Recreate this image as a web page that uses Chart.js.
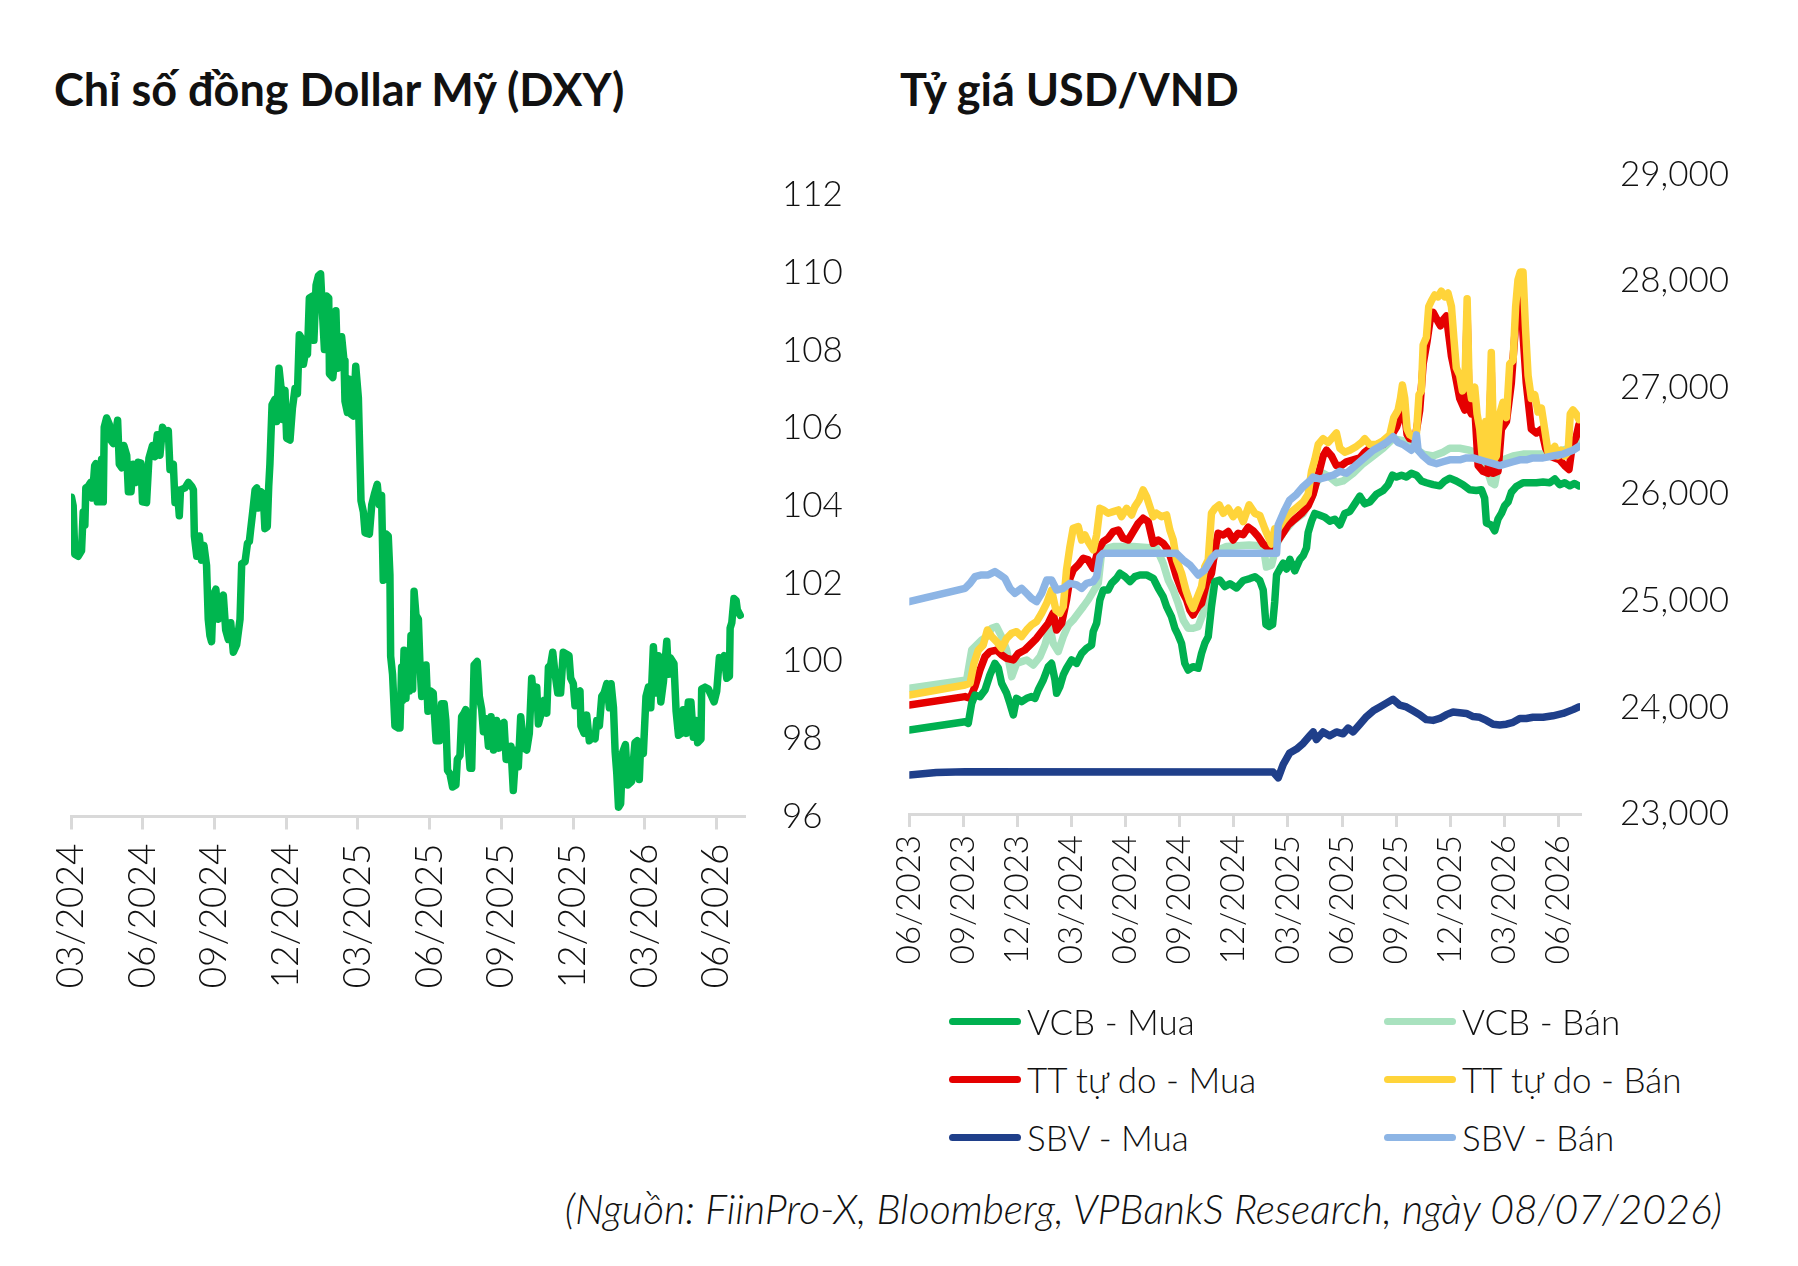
<!DOCTYPE html>
<html>
<head>
<meta charset="utf-8">
<script src="https://cdn.jsdelivr.net/npm/chart.js@4.4.1/dist/chart.umd.min.js"></script>
<style>
  html, body { margin: 0; padding: 0; background: #fff; }
  body { width: 1798px; height: 1266px; position: relative; overflow: hidden; font-family: 'Lato', 'Open Sans', sans-serif; color: #111; }
  .title { position: absolute; font-weight: 700; font-size: 45px; white-space: nowrap; line-height: 1; }
  .cv { position: absolute; }
  .legend-item { position: absolute; display: flex; align-items: center; font-size: 35px; font-weight: 300; white-space: nowrap; line-height: 1; }
  .legend-item span.sw { display: inline-block; width: 72px; height: 7px; border-radius: 4px; margin-right: 6px; }
  .source { position: absolute; right: 76px; top: 1188px; font-size: 41px; font-style: italic; font-weight: 300; white-space: nowrap; line-height: 1; }
</style>
</head>
<body>
<div class="title" id="t1" style="left:54px; top:67px;">Chỉ số đồng Dollar Mỹ (DXY)</div>
<div class="title" id="t2" style="left:900px; top:67px;">Tỷ giá USD/VND</div>
<canvas id="c1" class="cv" width="860" height="880" style="left:0px; top:150px;"></canvas>
<canvas id="c2" class="cv" width="938" height="880" style="left:860px; top:150px;"></canvas>
<div id="legend"></div>
<div class="source">(Nguồn: FiinPro-X, Bloomberg, VPBankS Research, ngày 08/07/2026)</div>
<script>
// ---------------- DATA ----------------
// Left chart: DXY, x = months since 03/2024
const dxyTickLabels = ['03/2024','06/2024','09/2024','12/2024','03/2025','06/2025','09/2025','12/2025','03/2026','06/2026'];
const dxyYLabels = {96:'96',98:'98',100:'100',102:'102',104:'104',106:'106',108:'108',110:'110',112:'112'};
const dxyMonth = [0.02,0.09,0.16,0.30,0.44,0.51,0.58,0.62,0.72,0.82,0.89,0.99,1.04,1.10,1.21,1.28,1.35,1.39,1.49,1.60,1.66,1.77,1.84,1.95,2.02,2.12,2.21,2.33,2.40,2.51,2.60,2.72,2.81,2.93,2.99,3.16,3.26,3.41,3.51,3.61,3.72,3.83,3.97,4.07,4.14,4.28,4.35,4.45,4.53,4.58,4.77,4.91,5.05,5.12,5.16,5.26,5.37,5.46,5.56,5.67,5.74,5.81,5.88,5.95,6.06,6.16,6.26,6.37,6.47,6.58,6.68,6.79,6.93,7.07,7.14,7.28,7.38,7.46,7.51,7.60,7.70,7.77,7.83,7.95,8.04,8.11,8.21,8.27,8.32,8.41,8.53,8.60,8.70,8.78,8.85,8.95,9.02,9.16,9.26,9.37,9.47,9.55,9.65,9.72,9.80,9.89,9.97,10.11,10.16,10.25,10.35,10.44,10.53,10.60,10.69,10.78,10.81,10.95,11.02,11.08,11.15,11.25,11.32,11.42,11.46,11.56,11.64,11.70,11.81,11.91,12.02,12.13,12.23,12.30,12.48,12.58,12.69,12.81,12.89,12.99,13.06,13.18,13.27,13.34,13.37,13.45,13.55,13.69,13.76,13.83,13.87,13.93,14.01,14.07,14.15,14.22,14.29,14.35,14.43,14.53,14.60,14.67,14.76,14.85,14.93,15.04,15.15,15.27,15.41,15.50,15.61,15.68,15.75,15.85,15.96,16.10,16.16,16.27,16.34,16.44,16.51,16.59,16.69,16.76,16.86,16.99,17.08,17.18,17.25,17.36,17.46,17.57,17.67,17.80,17.90,18.01,18.11,18.20,18.29,18.40,18.50,18.61,18.71,18.81,18.95,19.06,19.17,19.27,19.37,19.48,19.55,19.69,19.79,19.90,19.97,20.06,20.15,20.25,20.36,20.48,20.59,20.73,20.83,20.90,21.01,21.08,21.18,21.29,21.33,21.46,21.57,21.68,21.82,21.92,21.99,22.10,22.20,22.30,22.41,22.52,22.59,22.69,22.76,22.83,22.90,22.99,23.08,23.19,23.29,23.45,23.59,23.69,23.77,23.83,23.94,24.05,24.15,24.25,24.36,24.47,24.57,24.67,24.78,24.92,24.99,25.06,25.22,25.31,25.41,25.52,25.61,25.73,25.82,25.93,26.03,26.14,26.21,26.35,26.38,26.52,26.66,26.80,26.90,27.01,27.12,27.22,27.32,27.43,27.54,27.57,27.64,27.73,27.82,27.87,27.99];
const dxyValue = [104.22,104.0,102.75,102.7,102.84,103.84,103.5,104.46,104.5,104.6,104.2,105.03,105.08,104.1,104.1,105.2,104.1,106.02,106.26,106.1,105.69,105.6,105.8,106.2,105.07,104.98,105.55,105.3,104.36,104.36,105.07,104.6,105.12,105.1,104.1,104.08,105.22,105.55,105.26,105.83,105.3,106.02,105.83,105.93,104.93,105.07,104.08,104.41,103.74,104.41,104.46,104.6,104.5,104.41,103.22,102.7,103.22,102.6,102.98,102.46,101.08,100.66,100.5,101.7,101.85,101.08,101.46,101.7,100.8,100.56,100.99,100.23,100.42,101.08,102.51,102.56,103.03,103.08,103.36,103.84,104.41,104.46,103.94,104.36,104.3,103.41,103.46,104.5,105.07,106.6,106.74,106.17,107.54,107.07,106.22,106.97,105.74,105.69,106.5,107.02,106.88,108.4,108.3,107.64,107.92,107.9,109.35,109.4,108.26,109.68,109.92,109.97,108.83,108.02,109.4,109.35,107.4,107.3,107.74,109.02,107.54,108.02,108.35,107.73,106.69,106.4,107.26,106.36,106.31,107.59,106.78,104.13,103.84,103.3,103.27,104.03,104.3,104.55,104.03,104.27,102.08,103.27,103.22,102.22,100.13,99.66,98.33,98.28,98.28,99.85,98.99,100.28,99.04,100.23,99.23,100.66,99.28,101.8,101.18,101.08,99.85,99.09,99.18,99.9,98.71,99.23,99.18,97.95,97.95,98.9,98.9,98.47,97.19,97.1,96.76,96.81,97.47,97.57,98.57,98.66,98.75,98.04,97.24,97.24,99.9,99.99,99.09,98.75,98.18,98.52,97.81,98.57,97.71,98.47,97.76,98.38,98.42,97.47,97.47,97.81,96.67,97.71,97.28,98.57,97.76,97.71,98.14,99.56,98.9,99.33,98.38,98.71,98.99,98.66,99.85,99.9,100.23,99.66,99.18,99.18,100.23,100.18,100.14,99.56,99.42,98.85,99.18,99.23,98.33,98.14,98.61,97.95,98.04,98.0,98.47,98.33,99.09,99.18,99.42,98.8,99.42,98.8,97.66,97.1,96.24,96.33,97.66,97.85,96.81,96.9,97.9,97.95,96.95,97.9,97.62,99.09,99.33,98.8,100.37,99.18,100.14,98.95,99.47,100.51,99.66,100.09,99.94,98.71,98.09,98.14,98.75,98.14,98.95,98.95,98.04,98.47,97.9,97.99,99.28,99.33,99.28,99.09,98.95,99.23,100.09,100.04,100.14,99.56,99.61,100.85,100.99,101.61,101.56,101.32,101.18];

// Right chart: USD/VND, x = months since 06/2023
const vndTickLabels = ['06/2023','09/2023','12/2023','03/2024','06/2024','09/2024','12/2024','03/2025','06/2025','09/2025','12/2025','03/2026','06/2026'];
const vndYLabels = {23000:'23,000',24000:'24,000',25000:'25,000',26000:'26,000',27000:'27,000',28000:'28,000',29000:'29,000'};

const vcbBuyT = [0,3.09,3.27,3.46,3.64,3.92,4.2,4.47,4.75,4.94,5.12,5.4,5.58,5.77,5.95,6.23,6.51,6.78,6.97,7.15,7.43,7.71,7.89,8.08,8.17,8.35,8.54,8.72,9.0,9.28,9.56,9.83,10.11,10.2,10.39,10.57,10.76,11.03,11.22,11.5,11.68,11.96,12.24,12.51,12.79,13.16,13.53,13.81,14.08,14.27,14.54,14.73,14.91,15.1,15.28,15.47,15.74,16.02,16.21,16.39,16.58,16.76,16.95,17.22,17.5,17.78,18.15,18.52,18.89,19.17,19.44,19.63,19.78,19.96,20.15,20.27,20.37,20.55,20.74,20.92,21.11,21.38,21.66,21.85,22.03,22.12,22.31,22.49,22.77,23.05,23.32,23.6,23.88,24.15,24.43,24.71,24.99,25.26,25.54,25.91,26.28,26.56,26.8,27.02,27.3,27.57,27.85,28.13,28.4,28.68,29.05,29.42,29.7,29.97,30.34,30.71,31.08,31.45,31.73,31.91,32.01,32.28,32.47,32.65,32.84,33.02,33.21,33.39,33.67,34.04,34.41,34.78,35.15,35.52,35.8,36.07,36.35,36.63,36.9,37.14];
const vcbBuyV = [23788,23866,23850,24038,24116,24101,24163,24304,24413,24367,24226,24132,24038,23929,24085,24054,24085,24101,24085,24163,24257,24382,24413,24257,24132,24195,24304,24367,24445,24413,24507,24554,24585,24710,24789,25008,25101,25101,25164,25211,25258,25226,25180,25226,25242,25242,25211,25117,25039,24945,24851,24742,24679,24601,24413,24351,24382,24367,24507,24601,24664,24945,25180,25195,25133,25160,25120,25190,25208,25226,25190,25100,24777,24759,24777,24992,25244,25298,25352,25298,25388,25280,25388,25424,25495,25639,25747,25819,25801,25783,25747,25765,25711,25819,25837,25909,25981,25909,25927,25999,26035,26089,26178,26160,26178,26160,26196,26178,26124,26107,26089,26078,26124,26150,26124,26089,26042,26035,26042,25963,25729,25711,25657,25765,25819,25891,25927,26017,26071,26107,26107,26107,26114,26107,26142,26089,26107,26078,26100,26078];

const vcbSellT = [0,3.18,3.46,3.74,4.01,4.29,4.57,4.84,5.12,5.4,5.68,5.95,6.23,6.51,6.88,7.25,7.52,7.8,7.98,8.26,8.54,8.82,9.09,9.37,9.65,9.92,10.2,10.48,10.66,10.94,11.31,12.42,13.71,14.08,14.36,14.64,14.91,15.19,15.47,15.74,16.02,16.3,16.58,16.85,17.13,17.59,18.85,19.63,19.81,20.09,20.37,20.74,21.29,21.85,22.31,22.58,22.95,23.32,23.69,24.06,24.62,25.17,25.73,26.28,26.83,27.39,27.94,28.5,29.05,29.6,29.97,30.53,31.08,31.64,32.01,32.28,32.47,32.65,32.93,33.49,34.04,34.59,35.15,35.7,36.26,36.81,37.14];
const vcbSellV = [24179,24257,24538,24585,24632,24664,24742,24757,24664,24538,24288,24413,24429,24445,24398,24476,24585,24757,24601,24523,24664,24773,24820,24883,24945,25008,25086,25164,25445,25492,25508,25508,25492,25352,25195,25101,24976,24820,24742,24742,24757,24883,25101,25383,25477,25508,25523,25514,25316,25334,25532,25639,25747,25819,25963,26107,26196,26160,26107,26124,26196,26286,26358,26430,26520,26502,26448,26376,26358,26394,26430,26430,26412,26376,26250,26107,26089,26250,26322,26358,26376,26376,26376,26394,26412,26448,26484];

const ttBuyT = [0,3.09,3.37,3.64,3.92,4.2,4.47,4.84,5.12,5.4,5.77,6.05,6.41,6.69,7.06,7.34,7.71,7.98,8.17,8.45,8.72,8.91,9.09,9.37,9.65,9.92,10.2,10.48,10.76,11.03,11.31,11.59,11.86,12.14,12.42,12.7,12.97,13.25,13.53,13.81,14.08,14.36,14.54,14.82,15.1,15.38,15.56,15.74,16.02,16.21,16.48,16.76,16.95,17.13,17.41,17.69,17.96,18.24,18.52,18.8,19.07,19.35,19.63,19.9,20.18,20.46,20.74,21.01,21.38,21.75,22.12,22.4,22.68,22.95,23.14,23.42,23.69,23.97,24.25,24.62,24.99,25.26,25.54,25.91,26.28,26.56,26.83,27.02,27.2,27.35,27.48,27.61,27.76,28.04,28.31,28.5,28.72,28.87,29.05,29.33,29.46,29.6,29.79,30.07,30.25,30.53,30.81,30.94,31.05,31.18,31.36,31.55,31.82,32.1,32.28,32.38,32.65,32.84,33.12,33.39,33.63,33.76,33.89,34.04,34.22,34.5,34.78,35.06,35.3,35.52,35.8,36.07,36.35,36.59,36.78,36.99,37.14];
const ttBuyV = [24023,24101,24085,24195,24351,24476,24523,24538,24492,24460,24445,24507,24538,24585,24648,24710,24789,24883,24726,24789,25008,25211,25289,25336,25398,25383,25305,25477,25555,25586,25649,25664,25586,25570,25649,25727,25774,25742,25539,25570,25539,25477,25383,25226,25101,25008,24914,24867,24945,24976,25164,25258,25477,25633,25617,25649,25570,25633,25620,25690,25657,25603,25532,25496,25496,25568,25639,25711,25765,25819,25891,25999,26178,26358,26412,26358,26268,26268,26304,26322,26340,26394,26430,26466,26466,26520,26574,26628,26718,26900,26750,26560,26520,26509,26789,27221,27436,27616,27706,27616,27580,27634,27670,27293,27149,26897,26789,27700,26800,26753,26825,26268,26214,26196,27150,26196,26214,26610,26682,27041,27600,27880,27950,27500,27041,26610,26574,26610,26430,26358,26340,26322,26268,26232,26466,26538,26650];

const ttSellT = [0,3.09,3.37,3.59,3.83,4.1,4.33,4.57,4.84,5.12,5.4,5.68,5.95,6.23,6.51,6.78,7.06,7.34,7.62,7.89,8.13,8.35,8.54,8.72,8.91,9.09,9.37,9.56,9.74,9.92,10.2,10.39,10.57,10.76,11.03,11.31,11.59,11.77,12.05,12.33,12.51,12.75,12.97,13.16,13.34,13.53,13.71,13.99,14.27,14.45,14.64,14.82,15.1,15.34,15.56,15.74,15.99,16.21,16.39,16.58,16.76,16.95,17.19,17.41,17.69,17.96,18.24,18.52,18.85,19.17,19.44,19.72,19.9,20.09,20.27,20.46,20.74,21.1,21.48,21.85,22.12,22.31,22.49,22.68,22.95,23.23,23.51,23.69,23.88,24.15,24.43,24.8,25.08,25.26,25.54,25.91,26.28,26.65,26.87,27.11,27.24,27.35,27.48,27.61,27.76,27.94,28.13,28.27,28.4,28.5,28.68,28.81,28.96,29.14,29.33,29.51,29.7,29.88,30.07,30.2,30.34,30.53,30.68,30.81,30.94,31.05,31.18,31.36,31.49,31.64,31.79,31.97,32.1,32.28,32.43,32.56,32.75,32.93,33.12,33.3,33.49,33.63,33.76,33.89,34.04,34.17,34.32,34.5,34.69,34.87,35.06,35.24,35.43,35.61,35.8,35.98,36.16,36.35,36.54,36.66,36.81,36.99,37.14];
const ttSellV = [24116,24210,24226,24413,24538,24585,24726,24664,24617,24554,24648,24695,24710,24664,24726,24773,24804,24883,24976,25101,24914,24883,24945,25289,25508,25680,25696,25570,25617,25555,25477,25617,25867,25852,25821,25836,25852,25789,25867,25805,25883,25946,26039,25977,25883,25789,25821,25789,25805,25664,25570,25383,25258,25101,24992,24929,25039,25133,25320,25383,25821,25867,25899,25821,25867,25789,25852,25742,25900,25819,25801,25675,25603,25532,25675,25675,25747,25819,25873,25927,25999,26214,26322,26466,26520,26484,26538,26574,26430,26394,26412,26448,26484,26520,26466,26466,26502,26556,26718,26789,26897,27023,26897,26610,26556,26538,26574,26933,26969,27400,27472,27760,27814,27868,27850,27904,27850,27886,27760,27472,27185,27113,26969,27005,27832,27041,26897,27005,26753,26610,26322,26682,26322,27328,26322,26358,26753,26861,26718,27221,27257,27760,28011,28083,28083,27580,27113,26897,26933,26771,26807,26610,26394,26412,26448,26358,26412,26358,26394,26753,26789,26753,26700];

const sbvBuyT = [0,1.5,3.09,20.18,20.46,20.74,21.1,21.48,21.85,22.21,22.4,22.58,22.95,23.32,23.69,24.06,24.34,24.62,24.99,25.36,25.73,26.1,26.46,26.83,27.2,27.57,27.94,28.31,28.68,29.05,29.42,29.79,30.16,30.53,30.9,31.27,31.64,32.01,32.38,32.75,33.12,33.49,33.86,34.22,34.59,35.15,35.7,36.26,36.81,37.14];
const sbvBuyV = [23366,23390,23397,23393,23339,23465,23573,23609,23663,23734,23770,23698,23770,23734,23770,23752,23806,23770,23842,23914,23968,24004,24040,24076,24022,24004,23968,23932,23885,23878,23896,23932,23957,23950,23943,23914,23907,23878,23842,23835,23842,23860,23896,23896,23907,23907,23921,23943,23979,24004];

const sbvSellT = [0,3.09,3.37,3.64,4.01,4.38,4.75,5.03,5.3,5.58,5.86,6.23,6.51,6.78,7.06,7.34,7.62,7.89,8.17,8.54,8.91,9.28,9.56,9.83,10.2,10.39,10.57,10.76,14.82,15.19,15.56,16.02,16.39,16.76,17.04,20.37,20.46,20.55,20.83,21.1,21.48,21.85,22.21,22.4,22.77,23.14,23.51,23.88,24.25,24.62,24.99,25.36,25.73,26.1,26.46,26.83,27.11,27.39,27.85,28.04,28.13,28.22,28.5,28.87,29.24,29.6,29.97,30.53,30.9,31.27,31.64,32.01,32.38,32.75,33.12,33.49,33.86,34.22,34.59,35.15,35.7,36.26,36.81,37.14];
const sbvSellV = [24992,25117,25164,25226,25242,25242,25273,25242,25211,25117,25070,25117,25070,25023,24992,25070,25195,25195,25101,25117,25164,25148,25117,25164,25180,25226,25414,25445,25445,25383,25336,25242,25289,25398,25445,25445,25711,25747,25855,25945,25999,26071,26124,26160,26142,26160,26178,26214,26196,26250,26304,26358,26412,26448,26484,26538,26484,26466,26412,26466,26556,26412,26358,26304,26286,26304,26322,26322,26340,26340,26322,26304,26286,26268,26286,26304,26322,26322,26340,26340,26358,26376,26412,26448];

const vndSeries = [
  { name: 'VCB - Mua',      t: vcbBuyT,  v: vcbBuyV,  color: '#00B050', order: 2 },
  { name: 'VCB - Bán',      t: vcbSellT, v: vcbSellV, color: '#A9E2BF', order: 6 },
  { name: 'TT tự do - Mua', t: ttBuyT,   v: ttBuyV,   color: '#E50000', order: 5 },
  { name: 'TT tự do - Bán', t: ttSellT,  v: ttSellV,  color: '#FFD43A', order: 4 },
  { name: 'SBV - Mua',      t: sbvBuyT,  v: sbvBuyV,  color: '#1F3F8A', order: 3 },
  { name: 'SBV - Bán',      t: sbvSellT, v: sbvSellV, color: '#8DB5E5', order: 1 }
];

// ---------------- CHARTS ----------------
const tickFont = (size) => ({ family: 'Lato', size: size, weight: '300' });
const axisGrey = '#D9D9D9';
const toPts = (t, v) => t.map((x, i) => ({ x: x, y: v[i] }));

new Chart(document.getElementById('c1'), {
  type: 'line',
  data: {
    datasets: [{
      label: 'DXY',
      data: toPts(dxyMonth, dxyValue),
      borderColor: '#00B64F',
      borderWidth: 7.5,
      pointRadius: 0,
      tension: 0,
      borderJoinStyle: 'round',
      borderCapStyle: 'round'
    }]
  },
  options: {
    responsive: false,
    animation: false,
    devicePixelRatio: 1,
    layout: { padding: { left: 71, top: 45, right: 0, bottom: 0 } },
    plugins: { legend: { display: false }, tooltip: { enabled: false } },
    scales: {
      x: {
        type: 'linear', min: 0, max: 28.15,
        border: { display: true, color: axisGrey, width: 3 },
        grid: { display: true, drawOnChartArea: false, drawTicks: true, tickLength: 13, color: axisGrey, lineWidth: 3 },
        ticks: {
          stepSize: 3, includeBounds: false, autoSkip: false, minRotation: 90, maxRotation: 90,
          padding: 14, color: '#111', font: tickFont(37),
          callback: (v) => dxyTickLabels[Math.round(v / 3)] || ''
        },
        afterFit: (s) => { s.height = 213.5; }
      },
      y: {
        position: 'right', min: 96, max: 112,
        border: { display: false },
        grid: { display: false, drawTicks: true, tickLength: 38 },
        ticks: { stepSize: 2, padding: 0, color: '#111', font: tickFont(35), callback: (v) => dxyYLabels[v] },
        afterFit: (s) => { s.width = 116; }
      }
    }
  }
});

new Chart(document.getElementById('c2'), {
  type: 'line',
  data: {
    datasets: vndSeries.map(s => ({
      label: s.name,
      data: toPts(s.t, s.v),
      borderColor: s.color,
      borderWidth: 7.5,
      pointRadius: 0,
      tension: 0,
      order: s.order,
      borderJoinStyle: 'round',
      borderCapStyle: 'round'
    }))
  },
  options: {
    responsive: false,
    animation: false,
    devicePixelRatio: 1,
    layout: { padding: { left: 49.3, top: 24.3, right: 0, bottom: 0 } },
    plugins: { legend: { display: false }, tooltip: { enabled: false } },
    scales: {
      x: {
        type: 'linear', min: 0, max: 37.2,
        border: { display: true, color: axisGrey, width: 3 },
        grid: { display: true, drawOnChartArea: false, drawTicks: true, tickLength: 13, color: axisGrey, lineWidth: 3 },
        ticks: {
          stepSize: 3, includeBounds: false, autoSkip: false, minRotation: 90, maxRotation: 90,
          padding: 8, color: '#111', font: tickFont(33),
          callback: (v) => vndTickLabels[Math.round(v / 3)] || ''
        },
        afterFit: (s) => { s.height = 216; }
      },
      y: {
        position: 'right', min: 23000, max: 29000,
        border: { display: false },
        grid: { display: false, drawTicks: true, tickLength: 40 },
        ticks: { stepSize: 1000, padding: 0, color: '#111', font: tickFont(35), callback: (v) => vndYLabels[v] },
        afterFit: (s) => { s.width = 218; }
      }
    }
  }
});

// ---------------- HTML LEGEND ----------------
const legendPos = [
  { left: 949, top: 1021 }, { left: 1384, top: 1021 },
  { left: 949, top: 1079 }, { left: 1384, top: 1079 },
  { left: 949, top: 1137 }, { left: 1384, top: 1137 }
];
const lg = document.getElementById('legend');
vndSeries.forEach((s, i) => {
  const d = document.createElement('div');
  d.className = 'legend-item';
  d.style.left = legendPos[i].left + 'px';
  d.style.top = (legendPos[i].top - 18) + 'px';
  d.style.height = '36px';
  const sw = document.createElement('span');
  sw.className = 'sw';
  sw.style.background = s.color;
  d.appendChild(sw);
  d.appendChild(document.createTextNode(s.name));
  lg.appendChild(d);
});
</script>
</body>
</html>
